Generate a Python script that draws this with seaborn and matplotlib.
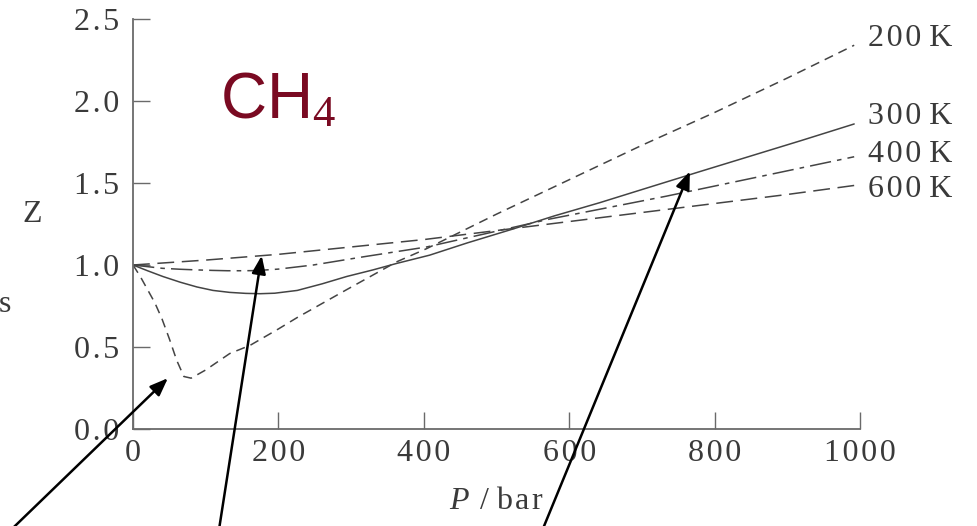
import matplotlib
matplotlib.use("Agg")
import matplotlib.pyplot as plt
import seaborn as sns
import numpy as np

# ---- data ----
P_200 = [0, 10, 20, 30, 40, 50, 60, 70, 80, 100, 133, 161, 200, 226, 294, 363, 404, 500, 600, 700, 800, 900, 992]
Z_200 = [1.0, 0.93, 0.85, 0.77, 0.67, 0.55, 0.42, 0.32, 0.31, 0.36, 0.46, 0.51, 0.61, 0.68, 0.85, 1.02, 1.10,
         1.31, 1.52, 1.73, 1.93, 2.14, 2.34]

P_300 = [0, 20, 41, 65, 88, 110, 133, 155, 175, 195, 226, 260, 294, 330, 363, 408, 460, 523, 580, 642, 700,
         780, 850, 920, 992]
Z_300 = [1.0, 0.965, 0.93, 0.895, 0.866, 0.845, 0.833, 0.827, 0.825, 0.828, 0.845, 0.885, 0.93, 0.97, 1.01,
         1.06, 1.135, 1.22, 1.30, 1.38, 1.46, 1.57, 1.665, 1.76, 1.86]

P_400 = [0, 20, 40, 65, 88, 110, 130, 150, 170, 200, 248, 317, 404, 480, 573, 650, 734, 860, 992]
Z_400 = [1.0, 0.99, 0.98, 0.974, 0.97, 0.967, 0.965, 0.965, 0.966, 0.975, 1.00, 1.05, 1.11, 1.186, 1.28,
         1.347, 1.42, 1.537, 1.66]

P_600 = [0, 100, 200, 300, 400, 500, 600, 700, 800, 900, 992]
Z_600 = [1.0, 1.03, 1.065, 1.11, 1.155, 1.21, 1.265, 1.32, 1.375, 1.43, 1.485]

temps = ["200", "300", "400", "600"]
label_y = [2.38, 1.907, 1.675, 1.461]

x_ticks = [0, 200, 400, 600, 800, 1000]
y_ticks = [0.0, 0.5, 1.0, 1.5, 2.0, 2.5]

sns.set_theme(style="white")
plt.rcParams['font.family'] = ['Liberation Serif', 'DejaVu Serif']
plt.rcParams['mathtext.fontset'] = 'custom'
plt.rcParams['mathtext.it'] = 'Liberation Serif:italic'
plt.rcParams['mathtext.rm'] = 'Liberation Serif'

TXT = "#3a3a3a"
LINE = "#444444"
SPINE = "#6a6a6a"
HS = "\u200a"  # hair space, imitates the reference's letter spacing


def spaced(s):
    return HS.join(s)


fig = plt.figure(figsize=(9.77, 5.26), dpi=100)
ax = fig.add_axes([133/977, 97/526, 727/977, 410/526])

styles = [(0, (6, 4)), "-", (0, (14, 4, 3, 4)), (0, (11, 5))]
series = [(P_200, Z_200), (P_300, Z_300), (P_400, Z_400), (P_600, Z_600)]
for (px, pz), ls in zip(series, styles):
    sns.lineplot(x=px, y=pz, ax=ax, color=LINE, linewidth=1.1, linestyle=ls, sort=False)

ax.set_xlim(0, 1000)
ax.set_ylim(0, 2.5)
ax.set_xticks(x_ticks)
ax.set_yticks(y_ticks)
ax.set_xticklabels([spaced(str(t)) for t in x_ticks])
ax.set_yticklabels([spaced(f"{t:.1f}") for t in y_ticks])

for s in ["top", "right"]:
    ax.spines[s].set_visible(False)
for s in ["left", "bottom"]:
    ax.spines[s].set_color(SPINE)
    ax.spines[s].set_linewidth(1.3)

ax.tick_params(axis="both", direction="in", length=12, width=1.0, color=SPINE,
               labelsize=23, labelcolor=TXT, left=True, bottom=True)
ax.tick_params(axis="y", pad=10)
ax.tick_params(axis="x", pad=7)

ax.set_xlabel("$P$" + HS + " / " + spaced("bar"), fontsize=23, color=TXT, labelpad=14)
ax.set_ylabel("")
fig.text(32/977, 1 - 215/526, "Z", fontsize=23, color=TXT, ha="center", va="center")
fig.text(5/977, 1 - 305/526, "s", fontsize=23, color=TXT, ha="center", va="center")

for t, y in zip(temps, label_y):
    ax.text(1011, y, spaced(t) + " K", fontsize=23, color=TXT, ha="left", va="center", clip_on=False)

ax.text(120, 2.0, "CH$_4$", fontsize=46, color="#7a0a22", ha="left", va="center",
        family="Liberation Sans", math_fontfamily="custom")

# arrows
arrows = [((48, 0.31), (-176, -0.65)), ((177, 1.057), (117, -0.65)), ((766, 1.571), (560, -0.65))]
for tip, tail in arrows:
    ax.annotate("", xy=tip, xytext=tail, xycoords="data", textcoords="data",
                arrowprops=dict(arrowstyle="-|>,head_length=0.9,head_width=0.35", color="black",
                                lw=1.8, shrinkA=0, shrinkB=0),
                annotation_clip=False)

fig.savefig("out.png", dpi=100)
